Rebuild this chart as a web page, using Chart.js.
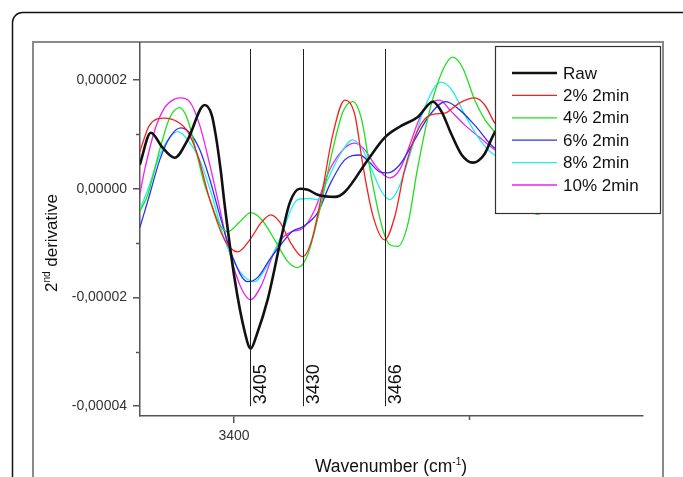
<!DOCTYPE html>
<html>
<head>
<meta charset="utf-8">
<script src="https://cdn.jsdelivr.net/npm/chart.js@4.4.1/dist/chart.umd.min.js"></script>
<style>
   html, body { margin: 0; padding: 0; background: #fff; }
   canvas { display: block; }
</style>
</head>
<body>
<canvas id="spectraChart" width="683" height="477"></canvas>
<script>
// wavenumber (cm-1) / 2nd derivative (units of 1e-5)
const rawX = [3359.9, 3364.6, 3369.7, 3374.8, 3380.3, 3387.5, 3390.5, 3392.2, 3394.3, 3396.0, 3400.3, 3404.6, 3407.1, 3409.7, 3414.3, 3419.9, 3423.7, 3428.0, 3431.4, 3435.6, 3442.9, 3447.1, 3456.9, 3464.1, 3470.5, 3478.2, 3484.6, 3488.4, 3492.2, 3496.9, 3501.6, 3506.3, 3510.9, 3521.6, 3538.6, 3555.6, 3572.6];
const rawY = [0.44, 1.03, 0.75, 0.57, 0.90, 1.54, 1.36, 0.99, 0.35, -0.29, -1.67, -2.64, -2.94, -2.68, -2.04, -0.94, -0.26, 0.00, -0.02, -0.11, -0.15, -0.06, 0.53, 0.94, 1.14, 1.32, 1.60, 1.41, 1.03, 0.62, 0.48, 0.62, 1.03, 1.45, 1.27, 0.90, 0.72];

const p2X = [3359.9, 3364.1, 3370.5, 3376.0, 3380.3, 3384.5, 3389.7, 3396.0, 3401.6, 3406.7, 3411.8, 3415.6, 3419.4, 3424.6, 3429.2, 3433.1, 3437.3, 3442.0, 3447.1, 3451.4, 3454.8, 3459.0, 3464.1, 3468.4, 3472.6, 3478.2, 3483.7, 3489.7, 3496.0, 3502.4, 3506.7, 3510.9, 3521.6, 3538.6, 3555.6, 3572.6];
const p2Y = [0.68, 1.17, 1.30, 1.23, 1.05, 0.62, -0.20, -0.94, -1.16, -0.94, -0.61, -0.48, -0.61, -1.03, -1.25, -0.94, -0.11, 0.99, 1.63, 1.36, 0.44, -0.48, -0.94, -0.51, 0.35, 1.08, 1.36, 1.39, 1.58, 1.67, 1.54, 1.21, 0.72, 0.44, 0.72, 0.90];

const p4X = [3359.9, 3363.3, 3368.4, 3372.6, 3376.9, 3380.3, 3383.7, 3387.5, 3390.5, 3393.9, 3397.3, 3402.4, 3407.1, 3411.8, 3417.3, 3422.9, 3427.1, 3431.4, 3436.5, 3442.0, 3446.3, 3450.5, 3454.3, 3458.6, 3463.3, 3466.3, 3469.7, 3473.9, 3478.2, 3483.3, 3488.8, 3493.1, 3497.3, 3502.4, 3506.7, 3510.9, 3519.4, 3529.2, 3538.6, 3555.6, 3572.6];
const p4Y = [-0.42, -0.11, 0.72, 1.30, 1.49, 1.27, 0.72, 0.07, -0.29, -0.66, -0.79, -0.61, -0.44, -0.57, -0.94, -1.34, -1.45, -1.21, -0.39, 0.72, 1.41, 1.60, 1.27, 0.17, -0.75, -1.03, -1.06, -0.66, 0.40, 1.45, 2.18, 2.42, 2.22, 1.63, 1.27, 1.03, 0.17, -0.47, -0.02, 0.72, 0.90];

const p6X = [3359.9, 3364.1, 3368.4, 3372.6, 3377.3, 3381.1, 3385.4, 3389.7, 3393.9, 3399.0, 3405.8, 3410.1, 3415.2, 3419.9, 3424.6, 3429.2, 3435.6, 3440.7, 3447.1, 3453.5, 3457.7, 3462.0, 3465.4, 3470.5, 3476.9, 3483.3, 3490.1, 3496.0, 3502.4, 3510.9, 3521.6, 3538.6, 3555.6, 3572.6];
const p6Y = [-0.72, -0.11, 0.53, 0.94, 1.12, 1.03, 0.72, 0.17, -0.48, -1.21, -1.71, -1.63, -1.30, -1.03, -0.79, -0.70, -0.44, 0.07, 0.53, 0.62, 0.48, 0.31, 0.29, 0.44, 0.90, 1.36, 1.60, 1.45, 1.17, 0.75, 0.62, 0.72, 0.81, 0.72];

const p8X = [3359.9, 3363.3, 3368.4, 3372.6, 3376.0, 3380.3, 3385.4, 3390.5, 3396.0, 3402.4, 3408.8, 3413.1, 3419.9, 3424.6, 3427.1, 3432.2, 3435.6, 3439.9, 3445.0, 3450.5, 3454.3, 3458.6, 3462.9, 3466.3, 3469.7, 3474.8, 3481.1, 3488.0, 3492.6, 3498.2, 3504.6, 3510.9, 3521.6, 3538.6, 3555.6, 3572.6];
const p8Y = [-0.39, -0.02, 0.62, 0.94, 1.05, 0.90, 0.53, -0.11, -0.94, -1.52, -1.71, -1.49, -0.88, -0.35, -0.20, -0.18, -0.20, 0.17, 0.62, 0.90, 0.75, 0.35, -0.06, -0.20, -0.02, 0.62, 1.49, 1.96, 1.82, 1.36, 0.90, 0.62, 0.53, 0.72, 0.81, 0.72];

const p10X = [3359.9, 3362.0, 3366.3, 3370.5, 3374.8, 3377.3, 3381.1, 3385.4, 3389.7, 3393.1, 3397.3, 3402.4, 3407.1, 3411.8, 3416.1, 3419.9, 3424.6, 3429.2, 3434.3, 3440.7, 3447.1, 3451.4, 3455.6, 3459.9, 3466.3, 3470.5, 3474.8, 3479.0, 3483.3, 3487.6, 3491.8, 3498.2, 3504.6, 3510.9, 3521.6, 3538.6, 3555.6, 3572.6];
const p10Y = [-0.11, 0.35, 1.08, 1.49, 1.65, 1.67, 1.60, 1.17, 0.44, -0.20, -1.03, -1.76, -2.04, -1.76, -1.27, -0.94, -0.79, -0.73, -0.39, 0.35, 0.75, 0.84, 0.72, 0.44, 0.20, 0.35, 0.81, 1.30, 1.58, 1.63, 1.45, 1.17, 0.94, 0.72, 0.53, 0.72, 0.90, 0.81];

const seriesLabels = ["Raw", "2% 2min", "4% 2min", "6% 2min", "8% 2min", "10% 2min"];
const yTicks = [-4, -2, 0, 2];
const yMinorTicks = [-3, -1, 1];
const xTicks = [3400];
const xMinorTicks = [3500];
const peakPositions = [3406.7, 3429.4, 3464.1];
const peakLabels = ["3405", "3430", "3466"];

const FONT = '"Liberation Sans", Arial, sans-serif';
const colors = ["#111111", "#f42020", "#1ee01e", "#3030f0", "#22eeee", "#f020f0"];
const widths = [2.6, 1.3, 1.3, 1.3, 1.3, 1.3];

function toPoints(xs, ys) {
   return xs.map((x, i) => ({ x: x, y: ys[i] }));
}

const seriesData = [
   toPoints(rawX, rawY),
   toPoints(p2X, p2Y),
   toPoints(p4X, p4Y),
   toPoints(p6X, p6Y),
   toPoints(p8X, p8Y),
   toPoints(p10X, p10Y),
];

const datasets = seriesData.map((pts, i) => ({
   label: seriesLabels[i],
   data: pts,
   borderColor: colors[i],
   borderWidth: widths[i],
   pointRadius: 0,
   cubicInterpolationMode: "monotone",
   fill: false,
}));

function line(c, x1, y1, x2, y2) {
   c.beginPath();
   c.moveTo(x1, y1);
   c.lineTo(x2, y2);
   c.stroke();
}

// text with a superscript part: parts = [text, size, rise]
function richText(c, parts, cx, baseY) {
   let total = 0;
   parts.forEach((p) => {
      c.font = `${p[1]}px ${FONT}`;
      total += c.measureText(p[0]).width;
   });
   let x = cx - total / 2;
   c.textAlign = "left";
   c.textBaseline = "alphabetic";
   parts.forEach((p) => {
      c.font = `${p[1]}px ${FONT}`;
      c.fillText(p[0], x, baseY - p[2]);
      x += c.measureText(p[0]).width;
   });
}

const framePlugin = {
   id: "frame",
   beforeDraw(chart) {
      const c = chart.ctx;
      c.save();
      c.fillStyle = "#fff";
      c.fillRect(0, 0, chart.width, chart.height);
      // outer rounded border
      const l = 12.5, t = 12.5, r = 692.5, b = 495, rad = 10;
      c.strokeStyle = "#111";
      c.lineWidth = 1.5;
      c.beginPath();
      c.moveTo(l + rad, t);
      c.lineTo(r - rad, t);
      c.arcTo(r, t, r, t + rad, rad);
      c.lineTo(r, b);
      c.lineTo(l, b);
      c.lineTo(l, t + rad);
      c.arcTo(l, t, l + rad, t, rad);
      c.stroke();
      // inner grey frame
      c.strokeStyle = "#8a8a8a";
      c.lineWidth = 2;
      c.strokeRect(33, 42, 630, 470);
      c.restore();
   },
};

const overlayPlugin = {
   id: "overlay",
   afterDraw(chart) {
      const c = chart.ctx;
      const xa = chart.scales.x;
      const ya = chart.scales.y;
      c.save();

      // minor ticks
      c.strokeStyle = "#555";
      c.lineWidth = 1.5;
      yMinorTicks.forEach((v) => {
         const py = Math.round(ya.getPixelForValue(v)) + 0.5;
         line(c, xa.left - 4, py, xa.left, py);
      });
      xMinorTicks.forEach((v) => {
         const px = Math.round(xa.getPixelForValue(v)) + 0.5;
         line(c, px, ya.bottom, px, ya.bottom + 4);
      });

      // peak marker lines
      c.strokeStyle = "#222";
      c.lineWidth = 1;
      const top = ya.getPixelForValue(2.57);
      const bottom = ya.getPixelForValue(-4);
      peakPositions.forEach((v, i) => {
         const px = Math.round(xa.getPixelForValue(v)) + 0.5;
         line(c, px, top, px, bottom);
         c.save();
         c.translate(px + 2, bottom - 2);
         c.rotate(-Math.PI / 2);
         c.fillStyle = "#111";
         c.font = `18px ${FONT}`;
         c.textAlign = "left";
         c.textBaseline = "top";
         c.fillText(peakLabels[i], 0, 0);
         c.restore();
      });

      // axis titles
      c.fillStyle = "#111";
      richText(c, [["Wavenumber (cm", 17.5, 0], ["-1", 10, 7], [")", 17.5, 0]], 391, 472);
      c.save();
      c.translate(57, 243);
      c.rotate(-Math.PI / 2);
      richText(c, [["2", 17, 0], ["nd", 10, 7], [" derivative", 17, 0]], 0, 0);
      c.restore();

      // legend box
      const lx = 495, ly = 46, lw = 165, lh = 167;
      c.fillStyle = "#fff";
      c.fillRect(lx, ly, lw, lh);
      c.strokeStyle = "#333";
      c.lineWidth = 1.2;
      c.strokeRect(lx + 0.5, ly + 0.5, lw, lh);
      chart.data.datasets.forEach((ds, i) => {
         const y = 73 + i * 22.4;
         c.strokeStyle = ds.borderColor;
         c.lineWidth = ds.borderWidth;
         line(c, 512, y, 557, y);
         c.fillStyle = "#111";
         c.font = `17px ${FONT}`;
         c.textAlign = "left";
         c.textBaseline = "middle";
         c.fillText(ds.label, 563, y + 1);
      });
      c.restore();
   },
};

const ctx = document.getElementById("spectraChart").getContext("2d");

new Chart(ctx, {
   type: "line",
   data: { datasets: datasets },
   options: {
      responsive: false,
      animation: false,
      devicePixelRatio: 1,
      layout: { padding: { top: 43, right: 40, left: 0, bottom: 0 } },
      plugins: {
         legend: { display: false },
         tooltip: { enabled: false },
      },
      scales: {
         x: {
            type: "linear",
            min: 3360,
            max: 3574,
            afterFit: (scale) => { scale.height = 61; },
            afterBuildTicks: (scale) => {
               scale.ticks = xTicks.map((v) => ({ value: v }));
            },
            border: { display: true, color: "#555", width: 1.5 },
            grid: { drawOnChartArea: false, drawTicks: true, tickLength: 7, color: "#555", lineWidth: 1.5 },
            ticks: {
               padding: 5,
               color: "#333",
               font: { family: FONT, size: 14 },
               callback: (v) => String(v),
            },
         },
         y: {
            min: -4.18,
            max: 2.68,
            afterFit: (scale) => { scale.width = 140; },
            afterBuildTicks: (scale) => {
               scale.ticks = yTicks.map((v) => ({ value: v }));
            },
            border: { display: true, color: "#555", width: 1.5 },
            grid: { drawOnChartArea: false, drawTicks: true, tickLength: 7, color: "#555", lineWidth: 1.5 },
            ticks: {
               padding: 6,
               color: "#333",
               font: { family: FONT, size: 14 },
               callback: (v) => (v * 1e-5).toFixed(5).replace(".", ","),
            },
         },
      },
   },
   plugins: [framePlugin, overlayPlugin],
});
</script>
</body>
</html>
